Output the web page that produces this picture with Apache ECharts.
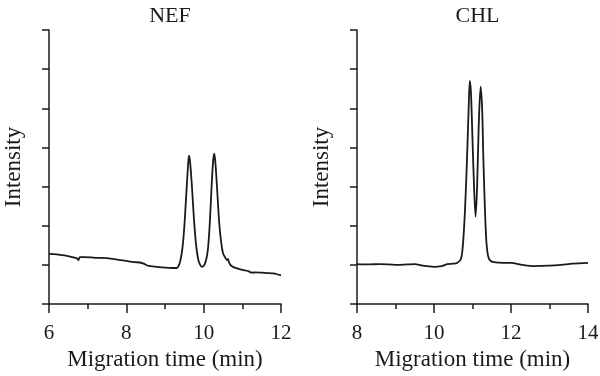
<!DOCTYPE html>
<html>
<head>
<meta charset="utf-8">
<script src="https://cdn.jsdelivr.net/npm/echarts@6/dist/echarts.min.js"></script>
<style>
  html, body { margin: 0; padding: 0; background: #fff; }
  #chart { width: 600px; height: 376px; }
</style>
</head>
<body>
<div id="chart"></div>
<script>
// NEF electropherogram (migration time in min, relative intensity)
const nefTime = [6.0, 6.2, 6.4, 6.6, 6.72, 6.76, 6.8, 6.9, 7.2, 7.5, 7.8, 8.0, 8.2, 8.35, 8.45, 8.55, 8.8, 9.0, 9.2, 9.3,
  9.35, 9.4, 9.45, 9.5, 9.55, 9.6, 9.62, 9.65, 9.7, 9.75, 9.8, 9.85, 9.9, 9.96,
  10.02, 10.08, 10.12, 10.16, 10.2, 10.24, 10.27, 10.3, 10.35, 10.4, 10.45, 10.5, 10.55, 10.6, 10.63, 10.66, 10.72, 10.8,
  10.9, 11.0, 11.15, 11.25, 11.35, 11.5, 11.65, 11.8, 11.9, 12.0];
const nefIntensity = [1.28, 1.27, 1.24, 1.2, 1.17, 1.12, 1.2, 1.2, 1.18, 1.17, 1.13, 1.1, 1.07, 1.06, 1.03, 0.98, 0.95, 0.93, 0.92, 0.92,
  0.97, 1.12, 1.42, 1.98, 2.8, 3.6, 3.79, 3.62, 2.95, 2.15, 1.55, 1.18, 1.02, 0.95,
  1.0, 1.2, 1.5, 2.1, 2.9, 3.6, 3.84, 3.65, 2.9, 2.1, 1.6, 1.3, 1.2, 1.12, 1.15, 1.05, 0.97, 0.93,
  0.9, 0.87, 0.84, 0.8, 0.81, 0.8, 0.79, 0.78, 0.76, 0.73];

// CHL electropherogram
const chlTime = [8.0, 8.3, 8.6, 9.0, 9.3, 9.5, 9.7, 10.0, 10.2, 10.35, 10.5, 10.6, 10.7, 10.75, 10.8, 10.85, 10.9, 10.93, 10.96,
  11.0, 11.04, 11.08, 11.12, 11.16, 11.21, 11.25, 11.28, 11.32, 11.36, 11.4, 11.45, 11.55, 11.8, 12.0, 12.3, 12.6, 13.0, 13.3, 13.6, 14.0];
const chlIntensity = [1.02, 1.01, 1.02, 1.0, 1.01, 1.02, 0.98, 0.95, 0.97, 1.02, 1.03, 1.05, 1.15, 1.5, 2.3, 3.5, 5.0, 5.7, 5.4,
  4.2, 3.0, 2.23, 3.0, 4.5, 5.55, 5.0, 3.8, 2.5, 1.6, 1.25, 1.12, 1.07, 1.05, 1.05, 1.0, 0.97, 0.98, 1.0, 1.03, 1.05];

const panelTitles = ['NEF', 'CHL'];
const xRanges = [[6, 12], [8, 14]];

const chart = echarts.init(document.getElementById('chart'));
const font = '"Liberation Serif", "DejaVu Serif", serif';
const black = '#1a1a1a';

function toPairs(xs, ys) {
  return xs.map((x, i) => [x, ys[i]]);
}

const grids = [
  { left: 49, top: 30, width: 232, height: 274, outerBoundsMode: 'none', containLabel: false },
  { left: 357, top: 30, width: 231, height: 274, outerBoundsMode: 'none', containLabel: false }
];

const xAxes = grids.map((g, i) => ({
  type: 'value',
  gridIndex: i,
  min: xRanges[i][0],
  max: xRanges[i][1],
  interval: 2,
  name: 'Migration time (min)',
  nameLocation: 'middle',
  nameGap: 42,
  nameTextStyle: { fontFamily: font, fontSize: 23, color: black },
  axisLine: { onZero: false, lineStyle: { color: black, width: 1.5 } },
  axisTick: { length: 9, lineStyle: { color: black, width: 1.5 } },
  minorTick: { show: true, splitNumber: 2, length: 5, lineStyle: { color: black, width: 1.5 } },
  axisLabel: { fontFamily: font, fontSize: 21, color: black, margin: 19 },
  splitLine: { show: false }
}));

const yAxes = grids.map((g, i) => ({
  type: 'value',
  gridIndex: i,
  min: 0,
  max: 7,
  interval: 1,
  name: 'Intensity',
  nameLocation: 'middle',
  nameGap: 24,
  nameTextStyle: { fontFamily: font, fontSize: 23, color: black },
  axisLine: { show: true, lineStyle: { color: black, width: 1.5 } },
  axisTick: { show: true, length: 7, lineStyle: { color: black, width: 1.5 } },
  axisLabel: { show: false },
  splitLine: { show: false }
}));

const option = {
  animation: false,
  title: panelTitles.map((t, i) => ({
    text: t,
    left: grids[i].left + grids[i].width / 2,
    textAlign: 'center',
    top: 0,
    textStyle: { fontFamily: font, fontSize: 22, fontWeight: 'normal', color: black }
  })),
  grid: grids,
  xAxis: xAxes,
  yAxis: yAxes,
  series: [
    {
      type: 'line',
      xAxisIndex: 0,
      yAxisIndex: 0,
      data: toPairs(nefTime, nefIntensity),
      smooth: 0.3,
      showSymbol: false,
      lineStyle: { color: black, width: 1.8 }
    },
    {
      type: 'line',
      xAxisIndex: 1,
      yAxisIndex: 1,
      data: toPairs(chlTime, chlIntensity),
      smooth: 0.3,
      showSymbol: false,
      lineStyle: { color: black, width: 1.8 }
    }
  ]
};

chart.setOption(option);
</script>
</body>
</html>
